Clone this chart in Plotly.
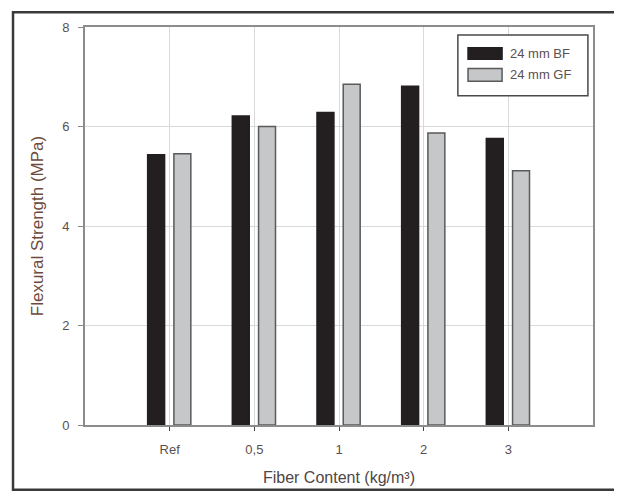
import plotly.graph_objects as go

categories = ["Ref", "0,5", "1", "2", "3"]
series_names = ["24 mm BF", "24 mm GF"]
bf_values = [5.43, 6.21, 6.28, 6.81, 5.76]
gf_values = [5.45, 6.00, 6.85, 5.87, 5.11]
y_ticks = [0, 2, 4, 6, 8]

colors = ["#231f20", "#c6c7c9"]
outlines = ["#231f20", "#5a5a5a"]

FONT = "Liberation Sans, Arial, sans-serif"

fig = go.Figure()
for name, vals, col, ol, off in zip(series_names, [bf_values, gf_values], colors, outlines, [-0.26, 0.05]):
    fig.add_trace(go.Bar(
        x=categories, y=vals, name=name,
        marker=dict(color=col, line=dict(color=ol, width=1.5)),
        width=0.2, offset=off, showlegend=False,
    ))

tick_font = dict(family=FONT, size=13, color="#5b5050")

# the page body has an 8px margin, so the figure is sized to fit the window
fig.update_layout(
    width=614, height=488,
    margin=dict(l=77, r=29, t=14, b=69),
    paper_bgcolor="white", plot_bgcolor="white",
    barmode="overlay",
    font=dict(family=FONT),
    xaxis=dict(
        type="category", range=[-1, 5],
        showgrid=True, gridcolor="#d9d9d9", gridwidth=1,
        showline=True, linecolor="#8c8c8c", linewidth=2, mirror=True,
        ticks="outside", ticklen=4, tickcolor="#444", tickwidth=1,
        tickfont=tick_font, ticklabelstandoff=7,
        title=dict(text="Fiber Content (kg/m³)", standoff=16,
                   font=dict(family=FONT, size=16, color="#4f4646")),
    ),
    yaxis=dict(
        range=[0, 8], tickvals=y_ticks,
        showgrid=True, gridcolor="#d9d9d9", gridwidth=1,
        showline=True, linecolor="#8c8c8c", linewidth=2, mirror=True,
        ticks="outside", ticklen=5, tickcolor="#888", tickwidth=1,
        tickfont=tick_font, zeroline=False, ticklabelstandoff=6,
        title=dict(text="Flexural Strength (MPa)", standoff=14,
                   font=dict(family=FONT, size=17, color="#6e4a3c")),
    ),
)

# outer frame
fig.add_shape(type="rect", xref="paper", yref="paper",
              x0=-0.1417, x1=1.047, y0=-0.163, y1=1.037,
              line=dict(color="#3a3a3a", width=2.5), fillcolor="rgba(0,0,0,0)", layer="above")

# legend box (custom)
fig.add_shape(type="rect", xref="paper", yref="paper",
              x0=0.734, x1=0.990, y0=0.827, y1=0.980,
              line=dict(color="#4a4a4a", width=1.5), fillcolor="white", layer="above")
sw_y = [(0.919, 0.948), (0.864, 0.896)]
for name, col, ol, (y0, y1) in zip(series_names, colors, outlines, sw_y):
    fig.add_shape(type="rect", xref="paper", yref="paper",
                  x0=0.754, x1=0.821, y0=y0, y1=y1,
                  line=dict(color=ol, width=1.5), fillcolor=col, layer="above")
    fig.add_annotation(xref="paper", yref="paper", x=0.833, y=(y0 + y1) / 2,
                       text=name, showarrow=False, xanchor="left", yanchor="middle",
                       font=dict(family=FONT, size=13, color="#5b5050"))

fig.write_html("out.html")
